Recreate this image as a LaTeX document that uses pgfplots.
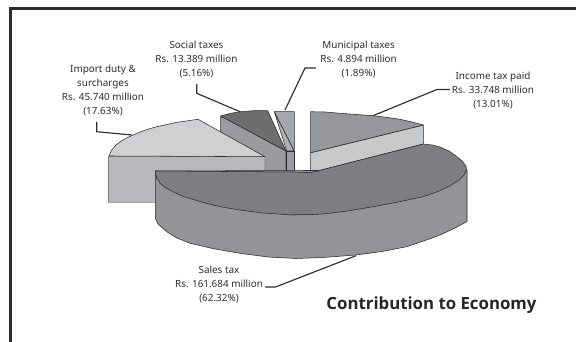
\documentclass[border=0pt]{standalone}
\usepackage{pgfplots}
\pgfplotsset{compat=1.18}
\usepackage{fontspec}
\setmainfont{Noto Sans}
\newfontfamily\titlefont{Open Sans}
\definecolor{txt}{HTML}{2E2E2E}
\definecolor{edge}{HTML}{2B2B2D}
\definecolor{socside}{HTML}{9A9B9E}
\definecolor{soctop}{HTML}{6D6E70}
\definecolor{munside}{HTML}{B0B1B4}
\definecolor{muntop}{HTML}{A7A8AB}
\definecolor{incside}{HTML}{C8C9CB}
\definecolor{inctop}{HTML}{96979A}
\definecolor{impside}{HTML}{B7B8BB}
\definecolor{imptop}{HTML}{CFD0D2}
\definecolor{salside}{HTML}{939497}
\definecolor{saltop}{HTML}{7D7E81}
\pgfplotsset{
  face/.style={draw=edge, line width=0.55pt, fill=#1, mark=none, line join=round},
  leader/.style={draw=txt, line width=1.15pt, mark=none},
}
\tikzset{lab/.style={align=center, font=\fontsize{9.9}{14}\selectfont, text=txt}}
\begin{document}
\begin{tikzpicture}
\begin{axis}[
  hide axis, scale only axis, width=576pt, height=342pt,
  xmin=0, xmax=576, ymin=0, ymax=342, y dir=reverse,
  clip=true,
]
% keeps the full page in the bounding box
\path (rel axis cs:0,0) rectangle (rel axis cs:1,1);

% outer frame, open to the right and at the bottom
\addplot[draw=txt, line width=2.6pt, mark=none] coordinates {(10.5,342) (10.5,8.5) (576,8.5)};

% leader lines behind the slices
\addplot[leader] coordinates {(373,115.7) (437,89.5) (450,89.5)};
\addplot[leader] coordinates {(285,110) (305,68) (316,68)};
\addplot[leader] coordinates {(240,111.7) (196.7,93.3) (196.7,84)};
\addplot[leader] coordinates {(131.7,135) (96.7,131.7) (96.7,122)};
\addplot[leader] coordinates {(356,255.7) (275.5,287) (265,287)};

% social taxes: side then top
\addplot[face=socside] coordinates {(220.7,116) (286,151) (286,172) (220.7,172)} --cycle;
\addplot[face=soctop] coordinates {(220.7,116) (230,113.5) (240,111.7) (253,110.7) (267.7,110.7) (286,151)} --cycle;

% municipal taxes: front, side, top
\addplot[face=socside] coordinates {(286.7,151) (294.3,151) (294.3,172) (286.7,172)} --cycle;
\addplot[face=munside] coordinates {(274.3,111.7) (294.3,151) (286.7,151)} --cycle;
\addplot[face=muntop] coordinates {(274.3,111.7) (294.3,111.7) (294.3,151)} --cycle;

% income tax paid: side then top
\addplot[face=incside] coordinates {(310.7,152.7) (423.3,125) (423.3,144) (310.7,172.7)} --cycle;
\addplot[face=inctop] coordinates {(310.7,111.7) (325,112) (340,113.3) (357,114.5) (373,115.7) (388,117.5) (400,119.3) (412,122) (423.3,125) (310.7,152.7)} --cycle;

% import duty and surcharges: front then top
\addplot[draw=impside!70!black, fill=impside, line width=0.55pt, mark=none] coordinates {(108.5,156.3) (265,156.7) (265,202.3) (108.5,202.3)} --cycle;
\addplot[face=imptop] coordinates {(109.3,156) (111,151) (116,145) (122,140.5) (131.7,135.5) (144,130.5) (156.7,126.7) (176,122.5) (198,119.3) (265,156.7)} --cycle;

% sales tax: wall then top
\addplot[face=salside] coordinates {(155.3,171) (155.3,218) (158,224) (166.7,231.7) (177,238) (190,243.3) (215,249) (240,253.3) (268,257) (296,258.5) (323,257.5) (356,255) (382,251.5) (406.7,246.7) (425,240.5) (440,235) (455,228) (467,221.5) (467,170)} --cycle;
\addplot[face=saltop] coordinates {(155.3,171) (155.6,174) (156.7,178) (160,183) (165,187.5) (173,191.7) (182,196) (195,200) (206.7,203.5) (222,207) (240,210) (262,213) (290,214.8) (310,214.6) (323,214) (348,211) (373,206.7) (398,202) (423,196.7) (438,191.5) (450,186) (459,180) (464,175) (466.5,170) (466,166) (462,161) (456.7,156.5) (449,151) (440,147) (432,145) (423.3,144) (310.7,172.7) (294,172)} --cycle;

% captions
\node[lab] at (axis cs:196.5,60) {Social taxes\\Rs. 13.389 million\\(5.16\%)};
\node[lab] at (axis cs:358.6,59.5) {Municipal taxes\\Rs. 4.894 million\\(1.89\%)};
\node[lab] at (axis cs:493,91) {Income tax paid\\Rs. 33.748 million\\(13.01\%)};
\node[lab] at (axis cs:103,91) {Import duty \&\\surcharges\\Rs. 45.740 million\\(17.63\%)};
\node[lab] at (axis cs:219,285) {Sales tax\\Rs. 161.684 million\\(62.32\%)};
\node[font=\fontsize{16.8}{18}\selectfont\titlefont\bfseries, text=black!85, anchor=center] at (axis cs:431.5,305) {Contribution to Economy};
\end{axis}
\end{tikzpicture}
\end{document}
